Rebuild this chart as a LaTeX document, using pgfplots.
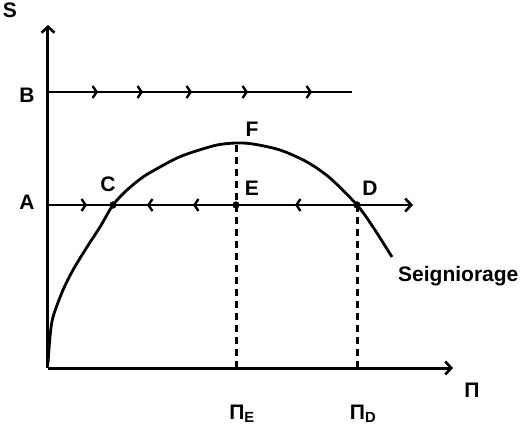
\documentclass[border=0pt]{standalone}
\usepackage{fontspec}
\setmainfont{Liberation Sans}
\usepackage{pgfplots}
\pgfplotsset{compat=1.18}
\usetikzlibrary{arrows.meta}

\tikzset{lab/.style={font=\bfseries\fontsize{21}{24}\selectfont}}

\begin{document}
\begin{tikzpicture}
\useasboundingbox (-48pt,-58pt) rectangle (476pt,368pt);
\begin{axis}[
	x=1pt, y=1pt,
	xmin=0, xmax=405, ymin=0, ymax=343,
	axis lines=left,
	axis line style={line width=3pt},
	x axis line style={-{Straight Barb[length=6pt,width=13pt,line width=2.6pt]}},
	y axis line style={-{Straight Barb[length=6pt,width=13pt,line width=2.6pt]}},
	ticks=none,
	clip=false,
]
% horizontal line B
\addplot[black, line width=2.8pt] coordinates {(0,276) (304,276)};
% horizontal line A
\addplot[black, line width=2.8pt, -{Straight Barb[length=6pt,width=13pt,line width=2.6pt]}]
	coordinates {(0,163) (365,163)};

% direction arrows on the lines
\addplot[black, line width=2.4pt, no markers,
	quiver={u=\thisrow{u}, v=0},
	-{Straight Barb[length=4pt,width=12pt,line width=2.4pt]}] table {
x   y   u
46  276 4
91  276 4
140 276 4
196 276 4
260 276 4
35  163 4
103 163 -4
149 163 -4
251 163 -4
};

% seigniorage curve
\addplot[black, line width=2.8pt, smooth, tension=0.5] coordinates {
	(0,5) (2,31) (5,51) (15,78) (25,98) (39,121) (52,141) (65,163)
	(79,178) (95,191) (112,201) (129,210) (145,216) (169,223) (188,225)
	(205,224) (232,218) (259,206) (282,190) (309,163) (325,141) (344,111)
};

% dashed verticals
\addplot[black, line width=3pt, dash pattern=on 7pt off 5pt] coordinates {(188,0) (188,225)};
\addplot[black, line width=3pt, dash pattern=on 7pt off 5pt] coordinates {(309,0) (309,163)};

% points C, E, D
\addplot[only marks, mark=*, mark size=3.4pt, black] coordinates {(65,163) (188,163) (309,163)};

% labels
\node[lab] at (axis cs:-38,358) {S};
\node[lab] at (axis cs:-21,273) {B};
\node[lab] at (axis cs:-21,166) {A};
\node[lab] at (axis cs:60,184) {C};
\node[lab] at (axis cs:204,239) {F};
\node[lab] at (axis cs:204,180) {E};
\node[lab] at (axis cs:322,180) {D};
\node[lab] at (axis cs:424,-22) {Π};
\node[lab] at (axis cs:194,-46) {Π\textsubscript{E}};
\node[lab] at (axis cs:315,-46) {Π\textsubscript{D}};
\node[lab, anchor=west, inner sep=0pt] at (axis cs:350,92) {Seigniorage};
\end{axis}
\end{tikzpicture}
\end{document}
